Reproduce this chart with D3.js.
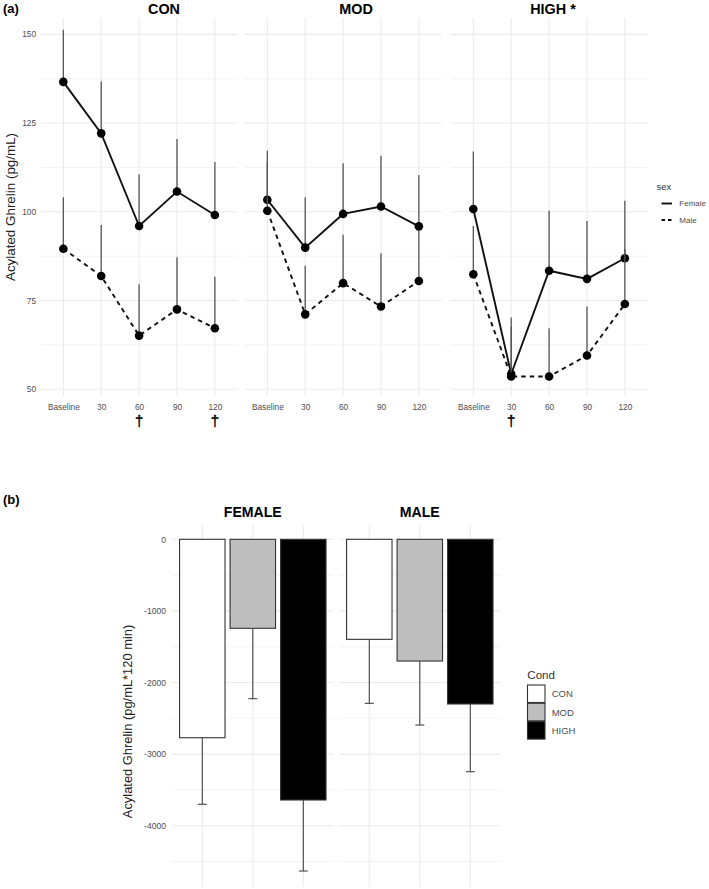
<!DOCTYPE html>
<html>
<head>
<meta charset="utf-8">
<script src="https://cdn.jsdelivr.net/npm/d3@7"></script>
<style>
  body { margin: 0; background: #fff; }
  svg { font-family: "Liberation Sans", Arial, sans-serif; }
</style>
</head>
<body>
<div id="chart"></div>
<script>
// Data (a): acylated ghrelin over time, rows = CON, MOD, HIGH
const timepoints = ['Baseline', '30', '60', '90', '120']
const conditions = ['CON', 'MOD', 'HIGH']
const panelTitles = ['CON', 'MOD', 'HIGH *']

const femaleMean = [
  [136.6, 122.1, 96.0, 105.7, 99.1],
  [103.4, 89.9, 99.4, 101.5, 95.9],
  [100.8, 54.3, 83.4, 81.1, 86.9],
]
const femaleSE = [
  [14.7, 14.6, 14.6, 14.8, 14.9],
  [13.8, 14.2, 14.3, 14.3, 14.5],
  [16.2, 15.9, 16.9, 16.3, 16.2],
]
const maleMean = [
  [89.6, 81.9, 65.1, 72.5, 67.2],
  [100.3, 71.1, 79.9, 73.3, 80.5],
  [82.4, 53.6, 53.6, 59.5, 74.0],
]
const maleSE = [
  [14.5, 14.4, 14.5, 14.7, 14.5],
  [13.7, 13.7, 13.6, 15.0, 14.4],
  [13.6, 14.0, 13.6, 13.8, 15.5],
]
// dagger marks under time points
const daggers = [['CON', '60'], ['CON', '120'], ['HIGH', '30']]
const topTicks = [50, 75, 100, 125, 150]

// Data (b): AUC by sex and condition
const sexes = ['FEMALE', 'MALE']
const aucFemale = [-2771, -1243, -3641]
const aucFemaleSE = [930, 983, 992]
const aucMale = [-1397, -1700, -2300]
const aucMaleSE = [894, 894, 946]
const condFills = ['#ffffff', '#bebebe', '#000000']
const botTicks = [0, -1000, -2000, -3000, -4000]

// Dimensions
const width = 709
const height = 889
const gridColor = '#ebebeb'
const textGrey = '#4d4d4d'

const svg = d3.select('#chart')
  .append('svg')
  .attr('width', width)
  .attr('height', height)

// ---------------- Panel (a) ----------------
const layA = { y0: 18, y1: 396, panelX: [40.6, 244.6, 450.6], panelW: 197, titleX: [164, 356, 553] }

const yTop = d3.scaleLinear()
  .domain([48.1, 154.6])
  .range([layA.y1, layA.y0])

svg.append('text')
  .attr('x', 3).attr('y', 12.5)
  .attr('font-size', 13).attr('font-weight', 'bold')
  .text('(a)')

conditions.forEach((cond, i) => {
  const x0 = layA.panelX[i]
  const xScale = d3.scalePoint()
    .domain(timepoints)
    .range([x0, x0 + layA.panelW])
    .padding(0.6)

  const g = svg.append('g')

  // grid
  const minor = [62.5, 87.5, 112.5, 137.5]
  g.selectAll('.minor').data(minor).join('line')
    .attr('x1', x0).attr('x2', x0 + layA.panelW)
    .attr('y1', d => yTop(d)).attr('y2', d => yTop(d))
    .attr('stroke', gridColor).attr('stroke-width', 0.6)
  g.selectAll('.major').data(topTicks).join('line')
    .attr('x1', x0).attr('x2', x0 + layA.panelW)
    .attr('y1', d => yTop(d)).attr('y2', d => yTop(d))
    .attr('stroke', gridColor).attr('stroke-width', 1.1)
  g.selectAll('.vgrid').data(timepoints).join('line')
    .attr('x1', d => xScale(d)).attr('x2', d => xScale(d))
    .attr('y1', layA.y0).attr('y2', layA.y1)
    .attr('stroke', gridColor).attr('stroke-width', 1.1)

  // x axis
  const xAxis = d3.axisBottom(xScale).tickSize(0).tickPadding(7.8)
  const xg = g.append('g')
    .attr('transform', `translate(0, ${layA.y1})`)
    .call(xAxis)
  xg.select('.domain').remove()
  xg.selectAll('text')
    .attr('fill', textGrey)
    .style('font-size', '8.3px')
    .style('font-family', '"Liberation Sans", Arial, sans-serif')

  // daggers
  daggers.filter(d => d[0] === cond).forEach(d => {
    g.append('text')
      .attr('x', xScale(d[1]))
      .attr('y', 425.5)
      .attr('text-anchor', 'middle')
      .attr('font-size', 15)
      .attr('fill', '#000')
      .attr('stroke', '#000')
      .attr('stroke-width', 0.4)
      .text('\u2020')
  })

  // panel title
  g.append('text')
    .attr('x', layA.titleX[i])
    .attr('y', 13.5)
    .attr('text-anchor', 'middle')
    .attr('font-size', 14.4)
    .attr('font-weight', 'bold')
    .text(panelTitles[i])

  // series
  const series = [
    { mean: femaleMean[i], se: femaleSE[i], dash: null },
    { mean: maleMean[i], se: maleSE[i], dash: '4.5,4' },
  ]

  series.forEach(s => {
    const pts = timepoints.map((t, k) => ({ t, m: s.mean[k], se: s.se[k] }))

    g.selectAll(null).data(pts).join('line')
      .attr('x1', d => xScale(d.t)).attr('x2', d => xScale(d.t))
      .attr('y1', d => yTop(d.m)).attr('y2', d => yTop(d.m + d.se))
      .attr('stroke', '#555').attr('stroke-width', 1.3)

    const lineGenerator = d3.line()
      .x(d => xScale(d.t))
      .y(d => yTop(d.m))

    g.append('path')
      .datum(pts)
      .attr('d', lineGenerator)
      .attr('fill', 'none')
      .attr('stroke', '#111')
      .attr('stroke-width', 1.9)
      .attr('stroke-dasharray', s.dash)

    g.selectAll(null).data(pts).join('circle')
      .attr('cx', d => xScale(d.t))
      .attr('cy', d => yTop(d.m))
      .attr('r', 4.3)
      .attr('fill', '#000')
  })
})

// y axis (a)
const yAxisTop = d3.axisLeft(yTop).tickValues(topTicks).tickSize(0).tickPadding(4.6)
const yTopG = svg.append('g')
  .attr('transform', `translate(${layA.panelX[0]}, 0)`)
  .call(yAxisTop)
yTopG.select('.domain').remove()
yTopG.selectAll('text')
  .attr('fill', textGrey)
  .style('font-size', '8.3px')
  .style('font-family', '"Liberation Sans", Arial, sans-serif')

svg.append('text')
  .attr('transform', 'translate(14.5, 207) rotate(-90)')
  .attr('text-anchor', 'middle')
  .attr('font-size', 13.4)
  .attr('fill', '#222')
  .text('Acylated Ghrelin (pg/mL)')

// legend sex
const sexLeg = svg.append('g')
sexLeg.append('text')
  .attr('x', 656.5).attr('y', 190)
  .attr('font-size', 9.5).attr('fill', '#333')
  .text('sex')
;[['Female', null, 203.5], ['Male', '3.5,3', 220]].forEach(([lab, dash, y]) => {
  sexLeg.append('line')
    .attr('x1', 661.5).attr('x2', 672)
    .attr('y1', y).attr('y2', y)
    .attr('stroke', '#111').attr('stroke-width', 1.9)
    .attr('stroke-dasharray', dash)
  sexLeg.append('text')
    .attr('x', 679.3).attr('y', y + 2.9)
    .attr('font-size', 8).attr('fill', textGrey)
    .text(lab)
})

// ---------------- Panel (b) ----------------
const layB = { y0: 525, y1: 886.7, panelX: [172, 339], panelW: 161.6 }

const yBot = d3.scaleLinear()
  .domain([-4852, 200])
  .range([layB.y1, layB.y0])

svg.append('text')
  .attr('x', 3).attr('y', 504)
  .attr('font-size', 13).attr('font-weight', 'bold')
  .text('(b)')

const aucVals = [aucFemale, aucMale]
const aucSEs = [aucFemaleSE, aucMaleSE]

sexes.forEach((sex, i) => {
  const x0 = layB.panelX[i]
  const xScale = d3.scalePoint()
    .domain(conditions)
    .range([x0, x0 + layB.panelW])
    .padding(0.6)
  const barW = xScale.step() * 0.9

  const g = svg.append('g')

  const minor = [-500, -1500, -2500, -3500, -4500]
  g.selectAll('.minor').data(minor).join('line')
    .attr('x1', x0).attr('x2', x0 + layB.panelW)
    .attr('y1', d => yBot(d)).attr('y2', d => yBot(d))
    .attr('stroke', gridColor).attr('stroke-width', 0.6)
  g.selectAll('.major').data(botTicks).join('line')
    .attr('x1', x0).attr('x2', x0 + layB.panelW)
    .attr('y1', d => yBot(d)).attr('y2', d => yBot(d))
    .attr('stroke', gridColor).attr('stroke-width', 1.1)
  g.selectAll('.vgrid').data(conditions).join('line')
    .attr('x1', d => xScale(d)).attr('x2', d => xScale(d))
    .attr('y1', layB.y0).attr('y2', layB.y1)
    .attr('stroke', gridColor).attr('stroke-width', 1.1)

  g.append('text')
    .attr('x', x0 + layB.panelW / 2)
    .attr('y', 517)
    .attr('text-anchor', 'middle')
    .attr('font-size', 14.1)
    .attr('font-weight', 'bold')
    .text(sex)

  const rows = conditions.map((c, k) => ({ c, v: aucVals[i][k], se: aucSEs[i][k], fill: condFills[k] }))

  g.selectAll(null).data(rows).join('rect')
    .attr('x', d => xScale(d.c) - barW / 2)
    .attr('y', d => yBot(0))
    .attr('width', barW)
    .attr('height', d => yBot(d.v) - yBot(0))
    .attr('fill', d => d.fill)
    .attr('stroke', '#333')
    .attr('stroke-width', 1.1)

  // error bars (downwards)
  g.selectAll(null).data(rows).join('line')
    .attr('x1', d => xScale(d.c)).attr('x2', d => xScale(d.c))
    .attr('y1', d => yBot(d.v)).attr('y2', d => yBot(d.v - d.se))
    .attr('stroke', '#444').attr('stroke-width', 1.1)
  g.selectAll(null).data(rows).join('line')
    .attr('x1', d => xScale(d.c) - 4.5).attr('x2', d => xScale(d.c) + 4.5)
    .attr('y1', d => yBot(d.v - d.se)).attr('y2', d => yBot(d.v - d.se))
    .attr('stroke', '#444').attr('stroke-width', 1.1)
})

const yAxisBot = d3.axisLeft(yBot)
  .tickValues(botTicks)
  .tickFormat(d => String(d))
  .tickSize(0)
  .tickPadding(6)
const yBotG = svg.append('g')
  .attr('transform', `translate(${layB.panelX[0]}, 0)`)
  .call(yAxisBot)
yBotG.select('.domain').remove()
yBotG.selectAll('text')
  .attr('fill', textGrey)
  .style('font-size', '8.6px')
  .style('font-family', '"Liberation Sans", Arial, sans-serif')

svg.append('text')
  .attr('transform', 'translate(131.5, 721.5) rotate(-90)')
  .attr('text-anchor', 'middle')
  .attr('font-size', 12.9)
  .attr('fill', '#222')
  .text('Acylated Ghrelin (pg/mL*120 min)')

// legend Cond
const condLeg = svg.append('g')
condLeg.append('text')
  .attr('x', 527.3).attr('y', 679)
  .attr('font-size', 11.6).attr('fill', '#333')
  .text('Cond')
conditions.forEach((c, k) => {
  const y = 685 + k * 18.3
  condLeg.append('rect')
    .attr('x', 527.5).attr('y', y)
    .attr('width', 17.5).attr('height', 17.5)
    .attr('fill', condFills[k])
    .attr('stroke', '#333').attr('stroke-width', 1.1)
  condLeg.append('text')
    .attr('x', 551.7).attr('y', y + 12.2)
    .attr('font-size', 9.5).attr('fill', textGrey)
    .text(c)
})
</script>
</body>
</html>
